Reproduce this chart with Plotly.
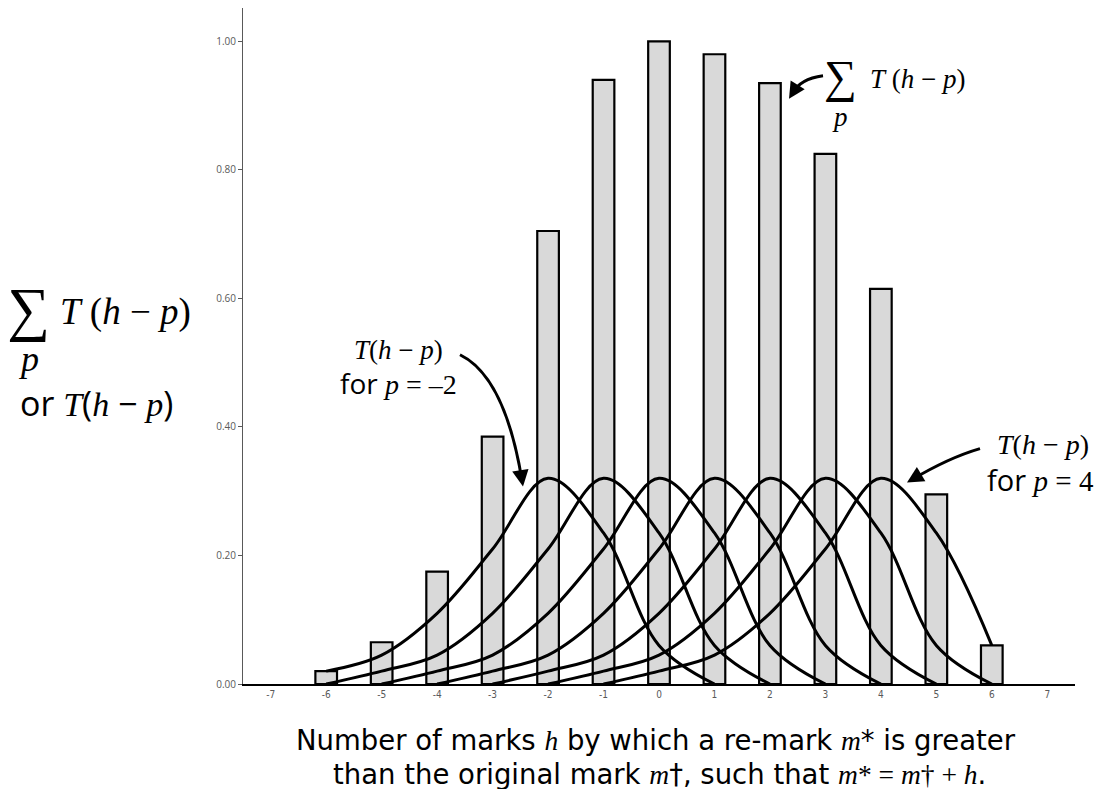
import plotly.graph_objects as go

# Re-mark difference h and the summed transition profile at each h
h_values = [-6, -5, -4, -3, -2, -1, 0, 1, 2, 3, 4, 5, 6]
sum_T = [0.02, 0.065, 0.175, 0.385, 0.705, 0.94, 1.00, 0.98, 0.935, 0.825, 0.615, 0.295, 0.06]

# Single transition profile T(h - p), tabulated by offset h - p
offsets = [-5, -4, -3, -2, -1, 0, 1, 2, 3]
T_profile = [0.0, 0.02, 0.045, 0.11, 0.21, 0.32, 0.235, 0.06, 0.0]
p_values = [-2, -1, 0, 1, 2, 3, 4]

x_ticks = [-7, -6, -5, -4, -3, -2, -1, 0, 1, 2, 3, 4, 5, 6, 7]
y_ticks = [0.0, 0.2, 0.4, 0.6, 0.8, 1.0]

SERIF = "Liberation Serif"
SANS = "Open Sans"
COND = "DejaVu Sans Condensed"
TITLE = "DejaVu Sans"


def it(s):
    return f'<span style="font-family:{SERIF}"><i>{s}</i></span>'


def rm(s):
    return f'<span style="font-family:{SERIF}">{s}</span>'


fig = go.Figure()

fig.add_trace(go.Bar(
    x=h_values, y=sum_T, width=0.39,
    marker=dict(color="#d9d9d9", line=dict(color="black", width=2.2)),
    showlegend=False, hoverinfo="skip",
))

for p in p_values:
    xs, ys = [], []
    for o, t in zip(offsets, T_profile):
        h = p + o
        if -6 <= h <= 6:
            xs.append(h)
            ys.append(t)
    fig.add_trace(go.Scatter(
        x=xs, y=ys, mode="lines",
        line=dict(color="black", width=3, shape="spline", smoothing=1),
        showlegend=False, hoverinfo="skip",
    ))

annotations = []


def text(t, x, y, size, family, xref="x", yref="y", xanchor="center", yanchor="middle"):
    annotations.append(dict(
        text=t, x=x, y=y, xref=xref, yref=yref, xanchor=xanchor, yanchor=yanchor,
        showarrow=False, font=dict(size=size, family=family, color="black"),
    ))


# Left-hand axis caption
text("∑", -0.258, 0.555, 60, SERIF, "paper", "paper")
text(it("T") + " (" + it("h") + " − " + it("p") + ")", -0.2224, 0.551, 37, SERIF,
     "paper", "paper", xanchor="left")
text(it("p"), -0.258, 0.481, 36, SERIF, "paper", "paper")
text("or " + it("T") + "(" + it("h") + " − " + it("p") + ")", -0.2704, 0.416, 34, SANS,
     "paper", "paper", xanchor="left")

# Caption for the summed bars
text("∑", 3.28, 0.945, 46, SERIF)
text(it("T") + " (" + it("h") + " − " + it("p") + ")", 3.77, 0.942, 27, SERIF, xanchor="left")
text(it("p"), 3.26, 0.883, 27, SERIF)

# Captions for individual curves
text(it("T") + "(" + it("h") + " − " + it("p") + ")", -4.705, 0.52, 27, SERIF)
text("for " + it("p") + rm(" = –2"), -4.705, 0.469, 28, SANS)
text(it("T") + "(" + it("h") + " − " + it("p") + ")", 6.92, 0.3725, 28, SERIF)
text("for " + it("p") + rm(" = 4"), 6.87, 0.318, 29, SANS)

# Horizontal axis caption
text("Number of marks " + it("h") + " by which a re-mark " + it("m") + "* is greater",
     0.496, -0.0825, 27.5, TITLE, "paper", "paper")
text("than the original mark " + it("m") + "†, such that " + it("m") + rm("* = ") + it("m")
     + rm("† + ") + it("h") + ".",
     0.5, -0.133, 27.5, TITLE, "paper", "paper")

# Curved pointer arrows: bezier body plus arrowhead
arrows = [
    # (start, control, tip, screen-space tail offset for the head)
    ((2.957, 0.9464), (2.542, 0.9418), (2.344, 0.9106), (6.3, -10.2)),
    ((-3.588, 0.5124), (-2.776, 0.4782), (-2.452, 0.3072), (-1.9, -11.8)),
    ((5.787, 0.3663), (5.228, 0.3523), (4.471, 0.3134), (10.3, -6.2)),
]
shapes = []
for (x0, y0), (qx, qy), (x1, y1), (ax, ay) in arrows:
    # stop the body just short of the tip so the head stays sharp
    ex = x1 + (ax / 55.47) * 0.5
    ey = y1 - (ay / 643.0) * 0.5
    shapes.append(dict(
        type="path", xref="x", yref="y",
        path=f"M {x0},{y0} Q {qx},{qy} {ex},{ey}",
        line=dict(color="black", width=3),
    ))
    annotations.append(dict(
        x=x1, y=y1, xref="x", yref="y", ax=ax, ay=ay, axref="pixel", ayref="pixel",
        text="", showarrow=True, arrowhead=2, arrowsize=1.1, arrowwidth=3,
        arrowcolor="black",
    ))

fig.update_layout(
    width=1106, height=789,
    margin=dict(l=243, r=31, t=8, b=104.5),
    paper_bgcolor="white", plot_bgcolor="white",
    showlegend=False,
    annotations=annotations,
    shapes=shapes,
    xaxis=dict(
        range=[-7.5, 7.5], tickvals=x_ticks, ticktext=[str(v) for v in x_ticks],
        showgrid=False, zeroline=False, showline=True, linecolor="black", linewidth=1.5,
        ticks="", tickfont=dict(size=10, family=COND, color="#595959"),
        fixedrange=True,
    ),
    yaxis=dict(
        range=[0, 1.052], tickvals=y_ticks, tickformat=".2f",
        showgrid=False, zeroline=False, showline=True, linecolor="#595959", linewidth=1,
        ticks="outside", ticklen=4, tickcolor="#595959",
        tickfont=dict(size=10, family=SANS, color="#595959"),
        fixedrange=True,
    ),
)

fig.write_html("out.html")
